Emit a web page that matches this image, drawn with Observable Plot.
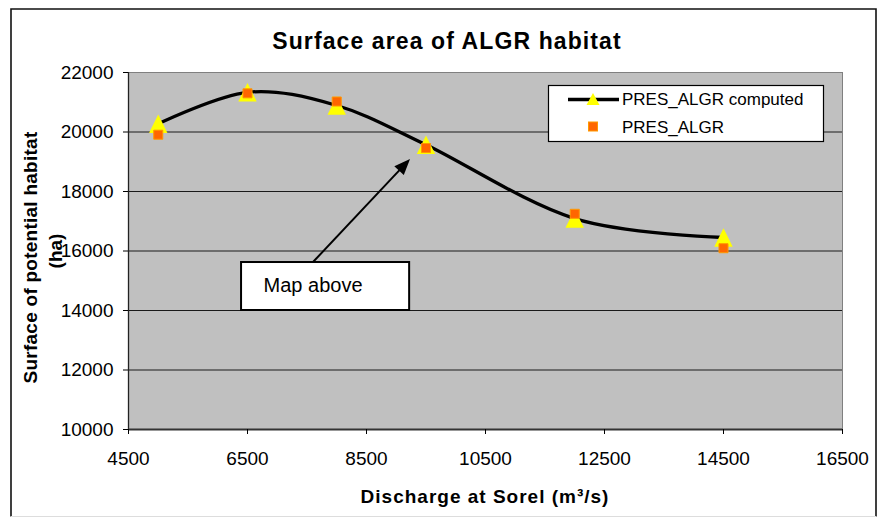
<!DOCTYPE html>
<html>
<head>
<meta charset="utf-8">
<script src="https://cdn.jsdelivr.net/npm/d3@7"></script>
<script src="https://cdn.jsdelivr.net/npm/@observablehq/plot@0.6"></script>
<style>
  body { margin: 0; background: #fff; }
  #chart { position: relative; width: 883px; height: 518px; }
</style>
</head>
<body>
<div id="chart"></div>
<script>
// ---- data ----
const discharge = [5000, 6500, 8000, 9500, 12000, 14500];
const computedArea = [20276, 21335, 20890, 19573, 17090, 16454];
const observedArea = [19909, 21300, 21025, 19462, 17250, 16094];
const xTicks = [4500, 6500, 8500, 10500, 12500, 14500, 16500];
const yTicks = [10000, 12000, 14000, 16000, 18000, 20000, 22000];
const seriesNames = ["PRES_ALGR computed", "PRES_ALGR"];
const titleText = "Surface area of ALGR habitat";
const xLabel = "Discharge at Sorel (m³/s)";
const yLabelLines = ["Surface of potential habitat", "(ha)"];
const noteText = "Map above";
const noteBox = [{x1: 6400, x2: 9225, y1: 14000, y2: 15613}];
const noteLabel = [{x: 6770, y: 14830, text: noteText}];
const noteArrow = [{x1: 7610, y1: 15613, x2: 9240, y2: 19076}];

const computed = discharge.map((x, i) => ({x, y: computedArea[i]}));
const observed = discharge.map((x, i) => ({x, y: observedArea[i]}));

// Excel-like marker shapes (bbox centred)
const excelTriangle = {
  draw(ctx, size) {
    const s = Math.sqrt(size);
    ctx.moveTo(0, -s / 2); ctx.lineTo(s / 2, s / 2); ctx.lineTo(-s / 2, s / 2); ctx.closePath();
  }
};
const excelSquare = {
  draw(ctx, size) {
    const s = Math.sqrt(size);
    ctx.rect(-s / 2, -s / 2, s, s);
  }
};

const FONT = "'Liberation Sans', Arial, sans-serif";
const fmt = d3.format("d");

const chart = Plot.plot({
  width: 883,
  height: 518,
  marginLeft: 128,
  marginRight: 41,
  marginTop: 72,
  marginBottom: 89,
  style: {fontFamily: FONT, color: "#000", background: "transparent", overflow: "visible"},
  x: {domain: [4500, 16500]},
  y: {domain: [10000, 22000]},
  marks: [
    Plot.frame({fill: "#C0C0C0"}),
    Plot.gridY(yTicks, {stroke: "#1a1a1a", strokeOpacity: 1, strokeWidth: 1}),
    Plot.frame({stroke: "#808080"}),
    Plot.ruleX([4500], {stroke: "#222", strokeWidth: 1.3}),
    Plot.ruleY([10000], {stroke: "#333", strokeWidth: 2}),
    Plot.axisX(xTicks, {tickSize: 5, tickPadding: 17, fontSize: 19, tickFormat: fmt, label: null}),
    Plot.axisY(yTicks, {tickSize: 5, tickPadding: 10, fontSize: 19, tickFormat: fmt, label: null}),
    Plot.line(computed, {x: "x", y: "y", curve: "cardinal", stroke: "#000", strokeWidth: 3.3}),
    Plot.dot(computed, {x: "x", y: "y", symbol: excelTriangle, r: 10.4, fill: "#FFFF00", stroke: "none"}),
    Plot.dot(observed, {x: "x", y: "y", symbol: excelSquare, r: 5.1, fill: "#FF6600", stroke: "#FF9900", strokeWidth: 1}),
    Plot.rect(noteBox, {x1: "x1", x2: "x2", y1: "y1", y2: "y2", fill: "#fff", stroke: "#000", strokeWidth: 2}),
    Plot.text(noteLabel, {x: "x", y: "y", text: "text", textAnchor: "start", lineAnchor: "middle", fontSize: 20, fill: "#000"})
  ]
});

document.getElementById("chart").appendChild(chart);

const svg = d3.select(chart);
const sx = chart.scale("x"), sy = chart.scale("y");

// annotation arrow
noteArrow.forEach(a => {
  const x1 = sx.apply(a.x1), y1 = sy.apply(a.y1), x2 = sx.apply(a.x2), y2 = sy.apply(a.y2);
  const dx = x2 - x1, dy = y2 - y1, L = Math.hypot(dx, dy);
  const ux = dx / L, uy = dy / L, hl = 16, hw = 6.5;
  const bx = x2 - ux * hl, by = y2 - uy * hl;
  svg.append("line").attr("x1", x1).attr("y1", y1).attr("x2", bx + ux * 2).attr("y2", by + uy * 2)
    .attr("stroke", "#000").attr("stroke-width", 2);
  svg.append("path")
    .attr("d", `M${x2},${y2}L${bx - uy * hw},${by + ux * hw}L${bx + uy * hw},${by - ux * hw}Z`)
    .attr("fill", "#000");
});

// legend
const lg = svg.append("g").attr("font-family", FONT).attr("font-size", 17).attr("text-anchor", "start");
lg.append("rect").attr("x", 548.5).attr("y", 85.5).attr("width", 275).attr("height", 56)
  .attr("fill", "#fff").attr("stroke", "#000").attr("stroke-width", 1.2);
lg.append("line").attr("x1", 568).attr("x2", 619).attr("y1", 99.5).attr("y2", 99.5)
  .attr("stroke", "#000").attr("stroke-width", 3.3);
lg.append("path").attr("d", "M593,93L599.5,105L586.5,105Z").attr("fill", "#FFFF00");
lg.append("text").attr("x", 622).attr("y", 105).attr("text-anchor", "start").attr("fill", "#000").text(seriesNames[0]);
lg.append("rect").attr("x", 588.5).attr("y", 122).attr("width", 9).attr("height", 9)
  .attr("fill", "#FF6600").attr("stroke", "#FF9900").attr("stroke-width", 1);
lg.append("text").attr("x", 622).attr("y", 133.3).attr("text-anchor", "start").attr("fill", "#000").text(seriesNames[1]);

// title and axis labels
svg.append("text").attr("x", 447).attr("y", 49).attr("text-anchor", "middle")
  .attr("font-family", FONT).attr("font-size", 23).attr("font-weight", "bold")
  .attr("letter-spacing", "1.1px").attr("fill", "#000").text(titleText);
svg.append("text").attr("x", 485).attr("y", 503).attr("text-anchor", "middle")
  .attr("font-family", FONT).attr("font-size", 19).attr("font-weight", "bold")
  .attr("letter-spacing", "1px").attr("fill", "#000").text(xLabel);
svg.append("text").attr("transform", "translate(36.5,257.5) rotate(-90)").attr("text-anchor", "middle")
  .attr("font-family", FONT).attr("font-size", 19).attr("font-weight", "bold")
  .attr("letter-spacing", "0.25px").attr("fill", "#000").text(yLabelLines[0]);
svg.append("text").attr("transform", "translate(62,251) rotate(-90)").attr("text-anchor", "middle")
  .attr("font-family", FONT).attr("font-size", 19).attr("font-weight", "bold")
  .attr("fill", "#000").text(yLabelLines[1]);

// outer chart border
svg.append("path").attr("d", "M11,516.5V9H876V516.5").attr("fill", "none")
  .attr("stroke", "#111").attr("stroke-width", 1.6);
svg.append("line").attr("x1", 11).attr("x2", 876).attr("y1", 516.5).attr("y2", 516.5)
  .attr("stroke", "#ddd").attr("stroke-width", 1);
</script>
</body>
</html>
